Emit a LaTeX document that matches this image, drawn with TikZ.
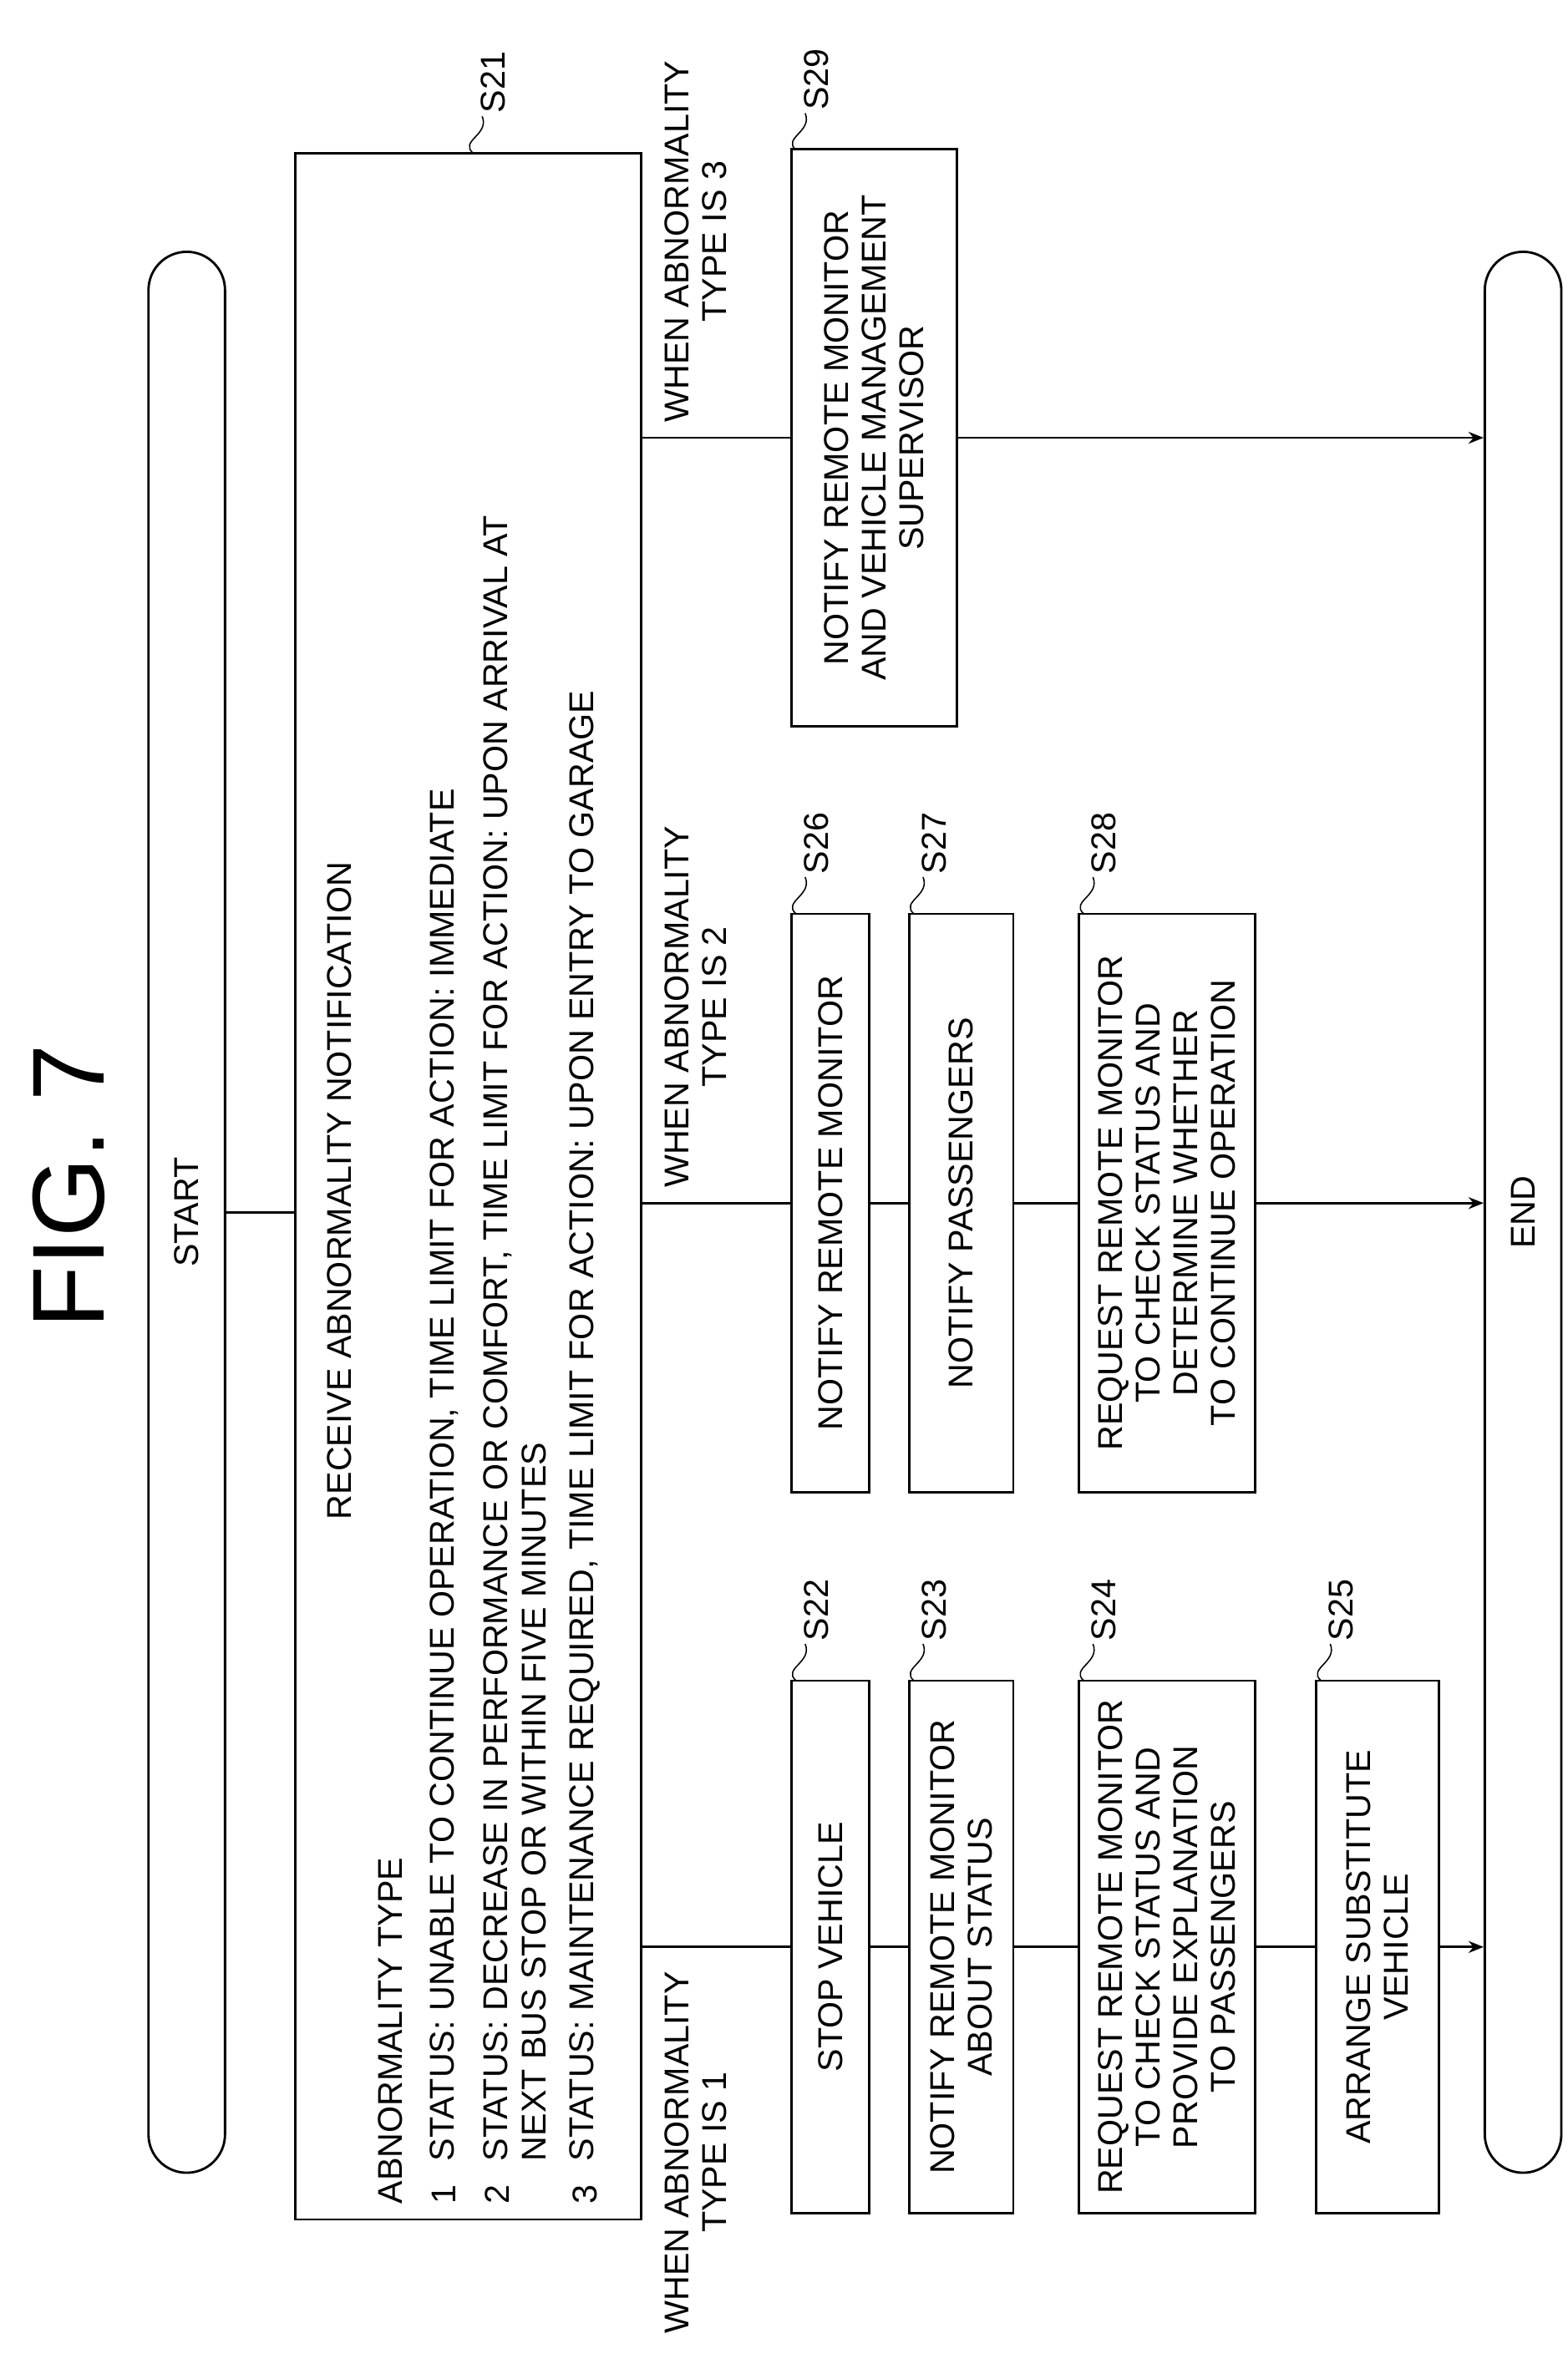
\documentclass[tikz,border=0pt]{standalone}
\usepackage{fontspec}
\setmainfont{Liberation Sans}
\usetikzlibrary{arrows.meta}
\begin{document}
\begin{tikzpicture}[x=0.05cm,y=-0.05cm,
  every node/.style={font=\fontsize{32}{35}\selectfont},
  ln/.style={line width=2.2pt},
  box/.style={draw,line width=2.2pt,rotate=90,align=center,inner sep=0pt},
  term/.style={draw,line width=2.2pt,rotate=90,rounded corners=1.25cm,inner sep=0pt,minimum width=1255*0.05cm,minimum height=50*0.05cm},
  rt/.style={rotate=90,inner sep=0pt},
  arr/.style={ln,-{Stealth[length=14pt,width=11pt]}},
  sq/.style={line width=1.2pt}]
\useasboundingbox (0,0) rectangle (1024,1551);
\newcommand\slab[4]{%
  \draw[sq] (#1+3,#2) .. controls (#1-6,#2-8) and (#1+14,#2-12) .. (#1+9,#2-24);
  \node[rt,anchor=north west] (#4) at (#1+8,#2-26) {#3};}
% title
\node[rt,font=\fontsize{95}{100}\selectfont] (title) at (45,775) {FIG. 7};
% terminals
\node[term] (start) at (122,792) {START};
\node[term] (end) at (995,792) {END};
% S21
\node[draw,line width=2.2pt,minimum width=226*0.05cm,minimum height=1350*0.05cm,inner sep=0pt] (s21) at (306,775) {};
\node[rt] (t0) at (222,778) {RECEIVE ABNORMALITY NOTIFICATION};
\node[rt,anchor=west] (t1) at (255,1440) {ABNORMALITY TYPE};
\node[rt,anchor=west] (n1) at (290,1440) {1};
\node[rt,anchor=west] (t2) at (290,1412) {STATUS: UNABLE TO CONTINUE OPERATION, TIME LIMIT FOR ACTION: IMMEDIATE};
\node[rt,anchor=west] (n2) at (325,1440) {2};
\node[rt,anchor=west] (t3) at (325,1412) {STATUS: DECREASE IN PERFORMANCE OR COMFORT, TIME LIMIT FOR ACTION: UPON ARRIVAL AT};
\node[rt,anchor=west] (t4) at (349,1412) {NEXT BUS STOP OR WITHIN FIVE MINUTES};
\node[rt,anchor=west] (n3) at (382,1440) {3};
\node[rt,anchor=west] (t5) at (382,1412) {STATUS: MAINTENANCE REQUIRED, TIME LIMIT FOR ACTION: UPON ENTRY TO GARAGE};
\slab{306}{100}{S21}{l21}
% type 1
\node[box,minimum width=348*0.05cm,minimum height=51*0.05cm] (s22) at (542.5,1272) {STOP VEHICLE};
\node[box,minimum width=348*0.05cm,minimum height=68*0.05cm] (s23) at (628,1272) {NOTIFY REMOTE MONITOR\\ABOUT STATUS};
\node[box,minimum width=348*0.05cm,minimum height=115*0.05cm] (s24) at (762.5,1272) {REQUEST REMOTE MONITOR\\TO CHECK STATUS AND\\PROVIDE EXPLANATION\\TO PASSENGERS};
\node[box,minimum width=348*0.05cm,minimum height=80*0.05cm] (s25) at (900,1272) {ARRANGE SUBSTITUTE\\VEHICLE};
\slab{517}{1098}{S22}{l22}
\slab{594}{1098}{S23}{l23}
\slab{705}{1098}{S24}{l24}
\slab{860}{1098}{S25}{l25}
% type 2
\node[box,minimum width=378*0.05cm,minimum height=51*0.05cm] (s26) at (542.5,786) {NOTIFY REMOTE MONITOR};
\node[box,minimum width=378*0.05cm,minimum height=68*0.05cm] (s27) at (628,786) {NOTIFY PASSENGERS};
\node[box,minimum width=378*0.05cm,minimum height=115*0.05cm] (s28) at (762.5,786) {REQUEST REMOTE MONITOR\\TO CHECK STATUS AND\\DETERMINE WHETHER\\TO CONTINUE OPERATION};
\slab{517}{597}{S26}{l26}
\slab{594}{597}{S27}{l27}
\slab{705}{597}{S28}{l28}
% type 3
\node[box,minimum width=377*0.05cm,minimum height=108*0.05cm] (s29) at (571,286) {NOTIFY REMOTE MONITOR\\AND VEHICLE MANAGEMENT\\SUPERVISOR};
\slab{517}{98}{S29}{l29}
% branch labels
\node[rt,align=center,anchor=north east] (b1) at (434,1288) {WHEN ABNORMALITY\\TYPE IS 1};
\node[rt,align=center,anchor=north west] (b2) at (434,776) {WHEN ABNORMALITY\\TYPE IS 2};
\node[rt,align=center,anchor=north west] (b3) at (434,276) {WHEN ABNORMALITY\\TYPE IS 3};
% connectors
\draw[ln] (start.south) -- (start.south -| s21.west);
\draw[ln] (s21.east |- s22) -- (s22);
\draw[ln] (s22) -- (s23);
\draw[ln] (s23) -- (s24);
\draw[ln] (s24) -- (s25);
\draw[arr] (s25) -- (s25 -| end.north);
\draw[ln] (s21.east |- s26) -- (s26);
\draw[ln] (s26) -- (s27);
\draw[ln] (s27) -- (s28);
\draw[arr] (s28) -- (s28 -| end.north);
\draw[ln] (s21.east |- s29) -- (s29);
\draw[arr] (s29) -- (s29 -| end.north);
\end{tikzpicture}
\end{document}
